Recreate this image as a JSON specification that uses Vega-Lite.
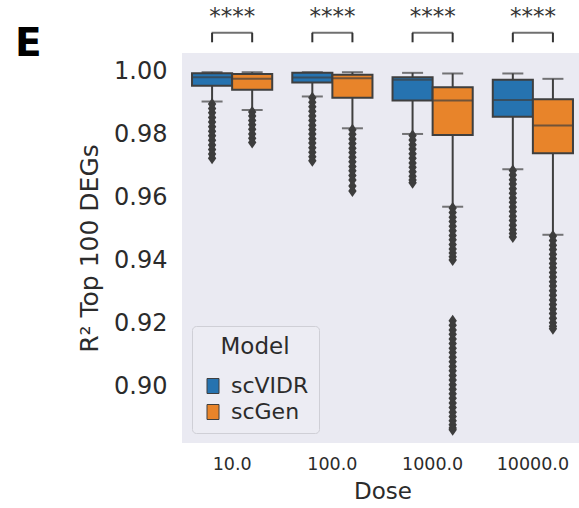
{
  "$schema": "https://vega.github.io/schema/vega-lite/v6.json",
  "autosize": {"type": "none"},
  "padding": {"left": 182, "top": 53, "right": 0, "bottom": 65},
  "width": 397,
  "height": 390,
  "background": "white",
  "title": {"text": "E", "anchor": "start", "frame": "group", "fontSize": 39, "fontWeight": "bold", "color": "#000000", "dx": -167, "dy": 89, "offset": 0, "baseline": "alphabetic"},
  "config": {
    "font": "DejaVu Sans",
    "view": {"fill": "#EAEAF2", "stroke": null}
  },
  "datasets": {
    "boxes": [
      {"Dose": "10.0", "Model": "scVIDR", "lower": 0.9906, "q1": 0.9956, "median": 0.9983, "q3": 0.9996, "upper": 0.9999},
      {"Dose": "10.0", "Model": "scGen", "lower": 0.9879, "q1": 0.9943, "median": 0.9978, "q3": 0.9993, "upper": 0.9999},
      {"Dose": "100.0", "Model": "scVIDR", "lower": 0.9922, "q1": 0.9966, "median": 0.9982, "q3": 0.9997, "upper": 0.9999},
      {"Dose": "100.0", "Model": "scGen", "lower": 0.9821, "q1": 0.9918, "median": 0.9980, "q3": 0.9991, "upper": 0.9999},
      {"Dose": "1000.0", "Model": "scVIDR", "lower": 0.9803, "q1": 0.9909, "median": 0.9975, "q3": 0.9983, "upper": 0.9997},
      {"Dose": "1000.0", "Model": "scGen", "lower": 0.9572, "q1": 0.9800, "median": 0.9909, "q3": 0.9951, "upper": 0.9995},
      {"Dose": "10000.0", "Model": "scVIDR", "lower": 0.9691, "q1": 0.9858, "median": 0.9911, "q3": 0.9975, "upper": 0.9995},
      {"Dose": "10000.0", "Model": "scGen", "lower": 0.9483, "q1": 0.9742, "median": 0.9830, "q3": 0.9913, "upper": 0.9978}
    ],
    "outliers": [
      {"Dose": "10.0", "Model": "scVIDR", "R2": 0.9898}, {"Dose": "10.0", "Model": "scVIDR", "R2": 0.9884}, {"Dose": "10.0", "Model": "scVIDR", "R2": 0.9870}, {"Dose": "10.0", "Model": "scVIDR", "R2": 0.9855}, {"Dose": "10.0", "Model": "scVIDR", "R2": 0.9841}, {"Dose": "10.0", "Model": "scVIDR", "R2": 0.9826}, {"Dose": "10.0", "Model": "scVIDR", "R2": 0.9812}, {"Dose": "10.0", "Model": "scVIDR", "R2": 0.9797}, {"Dose": "10.0", "Model": "scVIDR", "R2": 0.9783}, {"Dose": "10.0", "Model": "scVIDR", "R2": 0.9768}, {"Dose": "10.0", "Model": "scVIDR", "R2": 0.9754}, {"Dose": "10.0", "Model": "scVIDR", "R2": 0.9739}, {"Dose": "10.0", "Model": "scVIDR", "R2": 0.9726},
      {"Dose": "10.0", "Model": "scGen", "R2": 0.9873}, {"Dose": "10.0", "Model": "scGen", "R2": 0.9860}, {"Dose": "10.0", "Model": "scGen", "R2": 0.9846}, {"Dose": "10.0", "Model": "scGen", "R2": 0.9832}, {"Dose": "10.0", "Model": "scGen", "R2": 0.9818}, {"Dose": "10.0", "Model": "scGen", "R2": 0.9803}, {"Dose": "10.0", "Model": "scGen", "R2": 0.9789}, {"Dose": "10.0", "Model": "scGen", "R2": 0.9776},
      {"Dose": "100.0", "Model": "scVIDR", "R2": 0.9918}, {"Dose": "100.0", "Model": "scVIDR", "R2": 0.9904}, {"Dose": "100.0", "Model": "scVIDR", "R2": 0.9889}, {"Dose": "100.0", "Model": "scVIDR", "R2": 0.9875}, {"Dose": "100.0", "Model": "scVIDR", "R2": 0.9860}, {"Dose": "100.0", "Model": "scVIDR", "R2": 0.9846}, {"Dose": "100.0", "Model": "scVIDR", "R2": 0.9831}, {"Dose": "100.0", "Model": "scVIDR", "R2": 0.9817}, {"Dose": "100.0", "Model": "scVIDR", "R2": 0.9803}, {"Dose": "100.0", "Model": "scVIDR", "R2": 0.9788}, {"Dose": "100.0", "Model": "scVIDR", "R2": 0.9774}, {"Dose": "100.0", "Model": "scVIDR", "R2": 0.9759}, {"Dose": "100.0", "Model": "scVIDR", "R2": 0.9745}, {"Dose": "100.0", "Model": "scVIDR", "R2": 0.9731}, {"Dose": "100.0", "Model": "scVIDR", "R2": 0.9718},
      {"Dose": "100.0", "Model": "scGen", "R2": 0.9816}, {"Dose": "100.0", "Model": "scGen", "R2": 0.9802}, {"Dose": "100.0", "Model": "scGen", "R2": 0.9787}, {"Dose": "100.0", "Model": "scGen", "R2": 0.9773}, {"Dose": "100.0", "Model": "scGen", "R2": 0.9758}, {"Dose": "100.0", "Model": "scGen", "R2": 0.9744}, {"Dose": "100.0", "Model": "scGen", "R2": 0.9729}, {"Dose": "100.0", "Model": "scGen", "R2": 0.9715}, {"Dose": "100.0", "Model": "scGen", "R2": 0.9700}, {"Dose": "100.0", "Model": "scGen", "R2": 0.9686}, {"Dose": "100.0", "Model": "scGen", "R2": 0.9671}, {"Dose": "100.0", "Model": "scGen", "R2": 0.9657}, {"Dose": "100.0", "Model": "scGen", "R2": 0.9638}, {"Dose": "100.0", "Model": "scGen", "R2": 0.9622},
      {"Dose": "1000.0", "Model": "scVIDR", "R2": 0.9798}, {"Dose": "1000.0", "Model": "scVIDR", "R2": 0.9784}, {"Dose": "1000.0", "Model": "scVIDR", "R2": 0.9769}, {"Dose": "1000.0", "Model": "scVIDR", "R2": 0.9755}, {"Dose": "1000.0", "Model": "scVIDR", "R2": 0.9740}, {"Dose": "1000.0", "Model": "scVIDR", "R2": 0.9726}, {"Dose": "1000.0", "Model": "scVIDR", "R2": 0.9711}, {"Dose": "1000.0", "Model": "scVIDR", "R2": 0.9697}, {"Dose": "1000.0", "Model": "scVIDR", "R2": 0.9683}, {"Dose": "1000.0", "Model": "scVIDR", "R2": 0.9669}, {"Dose": "1000.0", "Model": "scVIDR", "R2": 0.9657}, {"Dose": "1000.0", "Model": "scVIDR", "R2": 0.9648},
      {"Dose": "1000.0", "Model": "scGen", "R2": 0.9568}, {"Dose": "1000.0", "Model": "scGen", "R2": 0.9554}, {"Dose": "1000.0", "Model": "scGen", "R2": 0.9539}, {"Dose": "1000.0", "Model": "scGen", "R2": 0.9525}, {"Dose": "1000.0", "Model": "scGen", "R2": 0.9510}, {"Dose": "1000.0", "Model": "scGen", "R2": 0.9496}, {"Dose": "1000.0", "Model": "scGen", "R2": 0.9481}, {"Dose": "1000.0", "Model": "scGen", "R2": 0.9467}, {"Dose": "1000.0", "Model": "scGen", "R2": 0.9452}, {"Dose": "1000.0", "Model": "scGen", "R2": 0.9438}, {"Dose": "1000.0", "Model": "scGen", "R2": 0.9425}, {"Dose": "1000.0", "Model": "scGen", "R2": 0.9413}, {"Dose": "1000.0", "Model": "scGen", "R2": 0.9403},
      {"Dose": "1000.0", "Model": "scGen", "R2": 0.9210}, {"Dose": "1000.0", "Model": "scGen", "R2": 0.9196}, {"Dose": "1000.0", "Model": "scGen", "R2": 0.9181}, {"Dose": "1000.0", "Model": "scGen", "R2": 0.9167}, {"Dose": "1000.0", "Model": "scGen", "R2": 0.9152}, {"Dose": "1000.0", "Model": "scGen", "R2": 0.9138}, {"Dose": "1000.0", "Model": "scGen", "R2": 0.9123}, {"Dose": "1000.0", "Model": "scGen", "R2": 0.9109}, {"Dose": "1000.0", "Model": "scGen", "R2": 0.9094}, {"Dose": "1000.0", "Model": "scGen", "R2": 0.9080}, {"Dose": "1000.0", "Model": "scGen", "R2": 0.9065}, {"Dose": "1000.0", "Model": "scGen", "R2": 0.9051}, {"Dose": "1000.0", "Model": "scGen", "R2": 0.9036}, {"Dose": "1000.0", "Model": "scGen", "R2": 0.9022}, {"Dose": "1000.0", "Model": "scGen", "R2": 0.9007}, {"Dose": "1000.0", "Model": "scGen", "R2": 0.8993}, {"Dose": "1000.0", "Model": "scGen", "R2": 0.8978}, {"Dose": "1000.0", "Model": "scGen", "R2": 0.8964}, {"Dose": "1000.0", "Model": "scGen", "R2": 0.8949}, {"Dose": "1000.0", "Model": "scGen", "R2": 0.8935}, {"Dose": "1000.0", "Model": "scGen", "R2": 0.8920}, {"Dose": "1000.0", "Model": "scGen", "R2": 0.8906}, {"Dose": "1000.0", "Model": "scGen", "R2": 0.8893}, {"Dose": "1000.0", "Model": "scGen", "R2": 0.8880}, {"Dose": "1000.0", "Model": "scGen", "R2": 0.8870}, {"Dose": "1000.0", "Model": "scGen", "R2": 0.8864},
      {"Dose": "10000.0", "Model": "scVIDR", "R2": 0.9687}, {"Dose": "10000.0", "Model": "scVIDR", "R2": 0.9673}, {"Dose": "10000.0", "Model": "scVIDR", "R2": 0.9658}, {"Dose": "10000.0", "Model": "scVIDR", "R2": 0.9644}, {"Dose": "10000.0", "Model": "scVIDR", "R2": 0.9629}, {"Dose": "10000.0", "Model": "scVIDR", "R2": 0.9615}, {"Dose": "10000.0", "Model": "scVIDR", "R2": 0.9600}, {"Dose": "10000.0", "Model": "scVIDR", "R2": 0.9586}, {"Dose": "10000.0", "Model": "scVIDR", "R2": 0.9571}, {"Dose": "10000.0", "Model": "scVIDR", "R2": 0.9557}, {"Dose": "10000.0", "Model": "scVIDR", "R2": 0.9542}, {"Dose": "10000.0", "Model": "scVIDR", "R2": 0.9528}, {"Dose": "10000.0", "Model": "scVIDR", "R2": 0.9513}, {"Dose": "10000.0", "Model": "scVIDR", "R2": 0.9499}, {"Dose": "10000.0", "Model": "scVIDR", "R2": 0.9487}, {"Dose": "10000.0", "Model": "scVIDR", "R2": 0.9476},
      {"Dose": "10000.0", "Model": "scGen", "R2": 0.9479}, {"Dose": "10000.0", "Model": "scGen", "R2": 0.9465}, {"Dose": "10000.0", "Model": "scGen", "R2": 0.9450}, {"Dose": "10000.0", "Model": "scGen", "R2": 0.9436}, {"Dose": "10000.0", "Model": "scGen", "R2": 0.9421}, {"Dose": "10000.0", "Model": "scGen", "R2": 0.9407}, {"Dose": "10000.0", "Model": "scGen", "R2": 0.9392}, {"Dose": "10000.0", "Model": "scGen", "R2": 0.9378}, {"Dose": "10000.0", "Model": "scGen", "R2": 0.9363}, {"Dose": "10000.0", "Model": "scGen", "R2": 0.9349}, {"Dose": "10000.0", "Model": "scGen", "R2": 0.9334}, {"Dose": "10000.0", "Model": "scGen", "R2": 0.9320}, {"Dose": "10000.0", "Model": "scGen", "R2": 0.9305}, {"Dose": "10000.0", "Model": "scGen", "R2": 0.9291}, {"Dose": "10000.0", "Model": "scGen", "R2": 0.9276}, {"Dose": "10000.0", "Model": "scGen", "R2": 0.9262}, {"Dose": "10000.0", "Model": "scGen", "R2": 0.9247}, {"Dose": "10000.0", "Model": "scGen", "R2": 0.9233}, {"Dose": "10000.0", "Model": "scGen", "R2": 0.9218}, {"Dose": "10000.0", "Model": "scGen", "R2": 0.9204}, {"Dose": "10000.0", "Model": "scGen", "R2": 0.9193}, {"Dose": "10000.0", "Model": "scGen", "R2": 0.9185}
    ],
    "sig": [
      {"Dose": "10.0", "label": "****"},
      {"Dose": "100.0", "label": "****"},
      {"Dose": "1000.0", "label": "****"},
      {"Dose": "10000.0", "label": "****"}
    ]
  },
  "encoding": {
    "x": {
      "field": "Dose", "type": "nominal",
      "sort": ["10.0", "100.0", "1000.0", "10000.0"],
      "scale": {"paddingInner": 0, "paddingOuter": 0, "range": [0, 401]},
      "axis": {"title": "Dose", "labelAngle": 0, "labelFontSize": 17.5, "labelColor": "#2b2b2b", "labelPadding": 12, "ticks": false, "domain": false, "titleFontSize": 23, "titleFontWeight": "normal", "titleColor": "#2b2b2b", "titlePadding": 8}
    }
  },
  "layer": [
    {
      "data": {"name": "boxes"},
      "mark": {"type": "rule", "color": "#3f3f3f", "strokeWidth": 2},
      "encoding": {
        "xOffset": {"field": "Model", "type": "nominal", "sort": ["scVIDR", "scGen"], "scale": {"domain": ["scVIDR", "scGen"], "paddingInner": 0, "paddingOuter": 0.25}},
        "y": {"field": "lower", "type": "quantitative", "scale": {"domain": [0.8822, 1.006], "nice": false, "zero": false},
          "axis": {"title": "R² Top 100 DEGs", "values": [0.90, 0.92, 0.94, 0.96, 0.98, 1.00], "format": ".2f", "labelFontSize": 24, "labelColor": "#2b2b2b", "labelPadding": 15, "ticks": false, "domain": false, "grid": false, "titleFontSize": 25, "titleFontWeight": "normal", "titleColor": "#2b2b2b", "titlePadding": 11}},
        "y2": {"field": "upper"}
      }
    },
    {
      "data": {"name": "outliers"},
      "mark": {"type": "point", "shape": "M0,-1L0.7,0L0,1L-0.7,0Z", "filled": true, "color": "#3d3d3d", "size": 144, "opacity": 1},
      "encoding": {
        "xOffset": {"field": "Model", "type": "nominal", "sort": ["scVIDR", "scGen"]},
        "y": {"field": "R2", "type": "quantitative"}
      }
    },
    {
      "data": {"name": "boxes"},
      "mark": {"type": "tick", "color": "#3f3f3f", "thickness": 2, "size": 21},
      "encoding": {
        "xOffset": {"field": "Model", "type": "nominal", "sort": ["scVIDR", "scGen"]},
        "y": {"field": "lower", "type": "quantitative"}
      }
    },
    {
      "data": {"name": "boxes"},
      "mark": {"type": "tick", "color": "#3f3f3f", "thickness": 2, "size": 21},
      "encoding": {
        "xOffset": {"field": "Model", "type": "nominal", "sort": ["scVIDR", "scGen"]},
        "y": {"field": "upper", "type": "quantitative"}
      }
    },
    {
      "data": {"name": "boxes"},
      "mark": {"type": "bar", "stroke": "#3f3f3f", "strokeWidth": 2, "opacity": 1},
      "encoding": {
        "xOffset": {"field": "Model", "type": "nominal", "sort": ["scVIDR", "scGen"]},
        "y": {"field": "q1", "type": "quantitative"},
        "y2": {"field": "q3"},
        "color": {"field": "Model", "type": "nominal", "sort": ["scVIDR", "scGen"],
          "scale": {"domain": ["scVIDR", "scGen"], "range": ["#2673b0", "#e8842a"]},
          "legend": {"title": "Model", "orient": "bottom-left", "offset": 10, "fillColor": "#ECECF3", "strokeColor": "#cfcfd6", "cornerRadius": 4, "padding": 10,
            "titleFontSize": 23, "titleFontWeight": "normal", "titleColor": "#2b2b2b", "titleAnchor": "middle", "titleAlign": "center", "titlePadding": 16,
            "labelFontSize": 22, "labelColor": "#2b2b2b", "labelOffset": 7, "rowPadding": 4,
            "symbolType": "M-0.8,-1H0.8V1H-0.8Z", "symbolSize": 225, "symbolStrokeColor": "#3f3f3f", "symbolStrokeWidth": 1, "symbolOpacity": 1}}
      }
    },
    {
      "data": {"name": "boxes"},
      "mark": {"type": "tick", "color": "#3f3f3f", "thickness": 2, "size": 39},
      "encoding": {
        "xOffset": {"field": "Model", "type": "nominal", "sort": ["scVIDR", "scGen"]},
        "y": {"field": "median", "type": "quantitative"}
      }
    },
    {
      "data": {"name": "sig"},
      "mark": {"type": "tick", "color": "#333333", "thickness": 2, "size": 41},
      "encoding": {"y": {"datum": 1.0124}}
    },
    {
      "data": {"name": "boxes"},
      "mark": {"type": "rule", "color": "#333333", "strokeWidth": 2},
      "encoding": {
        "xOffset": {"field": "Model", "type": "nominal", "sort": ["scVIDR", "scGen"]},
        "y": {"datum": 1.0124}, "y2": {"datum": 1.0094}
      }
    },
    {
      "data": {"name": "sig"},
      "mark": {"type": "text", "fontSize": 23, "color": "#333333", "baseline": "middle", "align": "center"},
      "encoding": {"y": {"datum": 1.0175}, "text": {"field": "label"}}
    }
  ]
}
